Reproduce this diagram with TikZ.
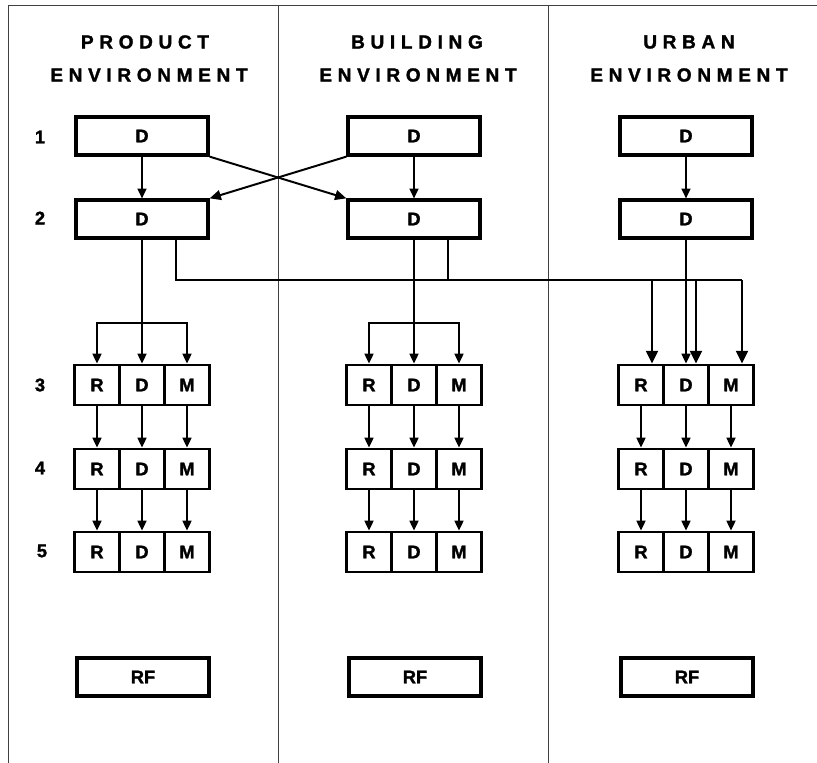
\documentclass[tikz,border=0pt]{standalone}
\usepackage{fontspec}
\setmainfont{Liberation Sans}[BoldFeatures={FakeBold=1.6}]
\newfontfamily\spacedfont{Liberation Sans}[LetterSpace=30, BoldFeatures={FakeBold=1.6}]
\usetikzlibrary{positioning}
\usetikzlibrary{arrows.meta}
\usetikzlibrary{calc}

\tikzset{
  bigbox/.style={draw, line width=2.3pt, minimum width=3.3cm, minimum height=0.95cm, inner sep=0pt, font=\bfseries\fontsize{13}{15}\selectfont},
  cell/.style={draw, line width=2.1pt, minimum width=1.125cm, minimum height=1cm, inner sep=0pt, font=\bfseries\fontsize{13}{15}\selectfont},
  head/.style={font=\spacedfont\bfseries\fontsize{13.5}{16}\selectfont},
  num/.style={font=\bfseries\fontsize{13}{15}\selectfont},
  flow/.style={line width=0.9pt, -{Triangle[length=7pt,width=6.5pt]}},
  drop/.style={line width=1.4pt, -{Triangle[length=9pt,width=8.5pt]}},
  cross/.style={line width=1.4pt, -{Triangle[length=8pt,width=7pt]}},
  bus/.style={line width=1.4pt},
  frame/.style={line width=0.6pt, black!75}
}

\begin{document}
\begin{tikzpicture}[x=0.025cm, y=-0.025cm]
\useasboundingbox (0,0) rectangle (817,763);

% Cadre et colonnes
\draw[frame] (8,763) -- (8,5) -- (817,5);
\draw[frame] (278,5) -- (278,763);
\draw[frame] (548,5) -- (548,763);

% Titres
\node[head] (Ptop) at (145,42) {PRODUCT};
\node[head] (Pbot) at (149,75) {ENVIRONMENT};
\node[head] (Btop) at (417,42) {BUILDING};
\node[head] (Bbot) at (418,75) {ENVIRONMENT};
\node[head] (Utop) at (689,42) {URBAN};
\node[head] (Ubot) at (689,75) {ENVIRONMENT};

% Niveaux
\node[num] (n1) at (40,137) {1};
\node[num] (n2) at (40,218) {2};
\node[num] (n3) at (40,385) {3};
\node[num] (n4) at (40,468) {4};
\node[num] (n5) at (42,551) {5};

% Niveaux 1 et 2
\node[bigbox] (P1) at (142,136) {D};
\node[bigbox] (B1) at (414,136) {D};
\node[bigbox] (U1) at (686,136) {D};
\node[bigbox] (P2) at (142,219) {D};
\node[bigbox] (B2) at (414,219) {D};
\node[bigbox] (U2) at (686,219) {D};

% Niveau 3
\node[cell] (P3R) at (97,385) {R};
\node[cell] (P3D) at (142,385) {D};
\node[cell] (P3M) at (187,385) {M};
\node[cell] (B3R) at (369,385) {R};
\node[cell] (B3D) at (414,385) {D};
\node[cell] (B3M) at (459,385) {M};
\node[cell] (U3R) at (641,385) {R};
\node[cell] (U3D) at (686,385) {D};
\node[cell] (U3M) at (731,385) {M};

% Niveau 4
\node[cell] (P4R) at (97,469) {R};
\node[cell] (P4D) at (142,469) {D};
\node[cell] (P4M) at (187,469) {M};
\node[cell] (B4R) at (369,469) {R};
\node[cell] (B4D) at (414,469) {D};
\node[cell] (B4M) at (459,469) {M};
\node[cell] (U4R) at (641,469) {R};
\node[cell] (U4D) at (686,469) {D};
\node[cell] (U4M) at (731,469) {M};

% Niveau 5
\node[cell] (P5R) at (97,552) {R};
\node[cell] (P5D) at (142,552) {D};
\node[cell] (P5M) at (187,552) {M};
\node[cell] (B5R) at (369,552) {R};
\node[cell] (B5D) at (414,552) {D};
\node[cell] (B5M) at (459,552) {M};
\node[cell] (U5R) at (641,552) {R};
\node[cell] (U5D) at (686,552) {D};
\node[cell] (U5M) at (731,552) {M};

% RF
\node[bigbox] (PRF) at (143,677) {RF};
\node[bigbox] (BRF) at (415,677) {RF};
\node[bigbox] (URF) at (687,677) {RF};

% Branches 1 -> 2
\draw[flow] (P1) -- (P2);
\draw[flow] (B1) -- (B2);
\draw[flow] (U1) -- (U2);
\draw[cross] (P1.south east) -- (B2.north west);
\draw[cross] (B1.south west) -- (P2.north east);

% Branches 2 -> 3
\coordinate (Pfork) at (142,323);
\coordinate (Bfork) at (414,323);
\draw[flow] (P2) -- (P3D);
\draw[flow] (Pfork) -| (P3R);
\draw[flow] (Pfork) -| (P3M);
\draw[flow] (B2) -- (B3D);
\draw[flow] (Bfork) -| (B3R);
\draw[flow] (Bfork) -| (B3M);
\draw[flow] (U2) -- (U3D);

% Liaison vers l'environnement urbain
\coordinate (Ubus) at (742,280);
\coordinate (Bbus) at (448,280);
\coordinate (UdR) at (652,280);
\coordinate (UdD) at (696,280);
\draw[bus] ($(P2.south)+(34,0)$) |- (Ubus);
\draw[bus] ($(B2.south)+(34,0)$) -- (Bbus);
\draw[drop] (Ubus) -- (Ubus |- U3M.north);
\draw[drop] (UdR) -- (UdR |- U3R.north);
\draw[drop] (UdD) -- (UdD |- U3D.north);

% Branches 3 -> 4
\draw[flow] (P3R) -- (P4R);
\draw[flow] (P3D) -- (P4D);
\draw[flow] (P3M) -- (P4M);
\draw[flow] (B3R) -- (B4R);
\draw[flow] (B3D) -- (B4D);
\draw[flow] (B3M) -- (B4M);
\draw[flow] (U3R) -- (U4R);
\draw[flow] (U3D) -- (U4D);
\draw[flow] (U3M) -- (U4M);

% Branches 4 -> 5
\draw[flow] (P4R) -- (P5R);
\draw[flow] (P4D) -- (P5D);
\draw[flow] (P4M) -- (P5M);
\draw[flow] (B4R) -- (B5R);
\draw[flow] (B4D) -- (B5D);
\draw[flow] (B4M) -- (B5M);
\draw[flow] (U4R) -- (U5R);
\draw[flow] (U4D) -- (U5D);
\draw[flow] (U4M) -- (U5M);

\end{tikzpicture}
\end{document}
